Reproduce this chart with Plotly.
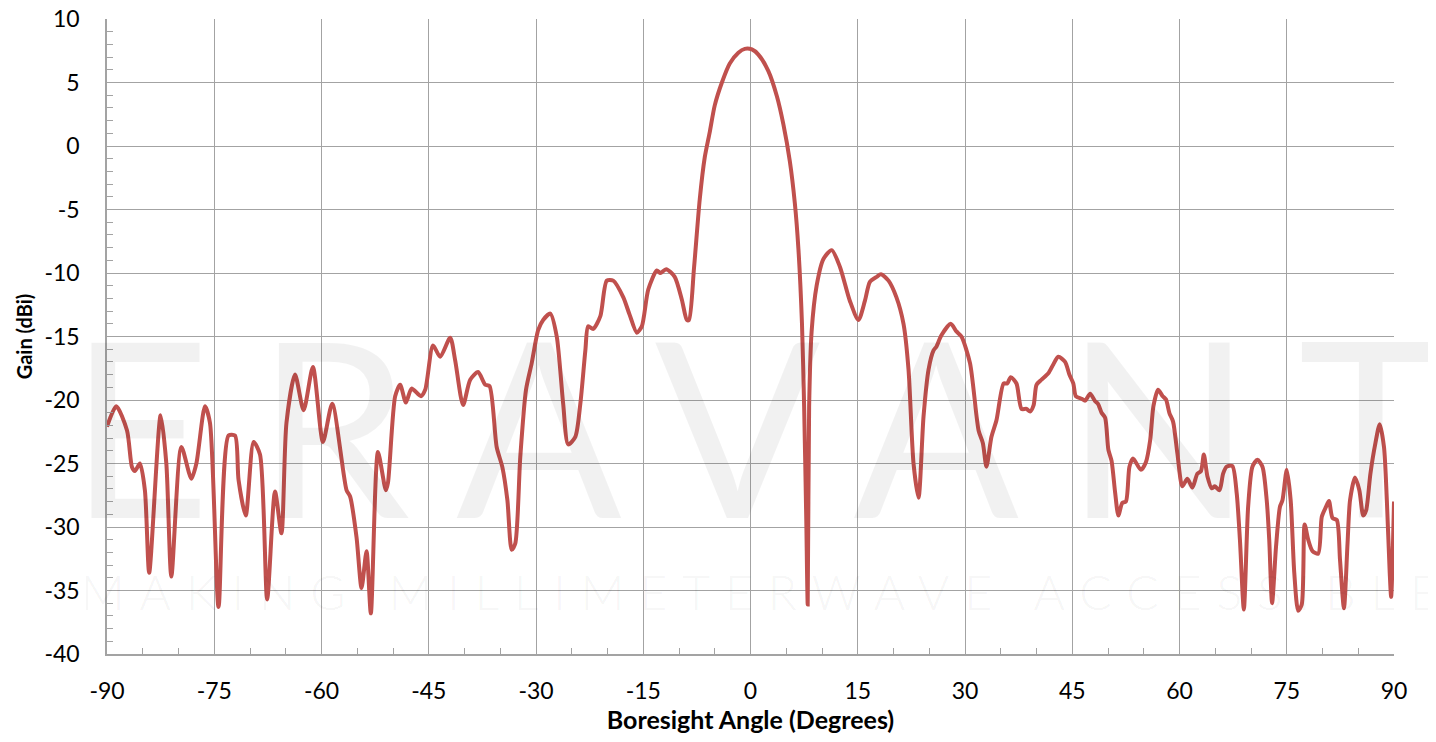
import plotly.graph_objects as go

# Boresight gain pattern
angle_deg = [
    -90.0, -88.7, -87.2, -86.5, -86.1, -85.4, -84.7, -84.1, -82.5, -81.7,
    -81.0, -79.6, -78.2, -77.5, -76.3, -75.6, -74.4, -73.0, -72.1, -71.6,
    -70.6, -69.5, -68.6, -67.6, -66.5, -65.6, -64.9, -63.7, -62.5, -61.2,
    -59.8, -58.5, -56.5, -56.0, -55.1, -54.4, -53.7, -53.1, -52.1, -51.0,
    -50.7, -49.7, -49.0, -48.2, -47.4, -46.1, -45.5, -44.4, -43.4, -42.0,
    -41.3, -40.2, -39.2, -38.1, -37.1, -36.5, -35.5, -34.7, -34.0, -33.4,
    -32.9, -32.2, -31.4, -30.6, -29.7, -29.0, -28.0, -27.1, -26.2, -25.5,
    -24.5, -23.8, -23.1, -22.7, -22.0, -21.0, -20.1, -19.2, -17.8, -16.9,
    -15.9, -15.2, -14.3, -13.1, -12.6, -11.8, -10.6, -9.6, -8.9, -8.6,
    -7.9, -7.1, -6.4, -5.7, -5.0, -4.0, -2.9, -1.7, -0.8, 0.2,
    1.1, 2.5, 3.7, 4.6, 5.5, 6.2, 6.7, 7.2, 7.5, 7.8,
    8.0, 8.2, 8.55, 9.25, 10.2, 11.35, 12.5, 13.9, 15.1, 16.0,
    16.7, 17.65, 18.25, 19.3, 20.4, 21.4, 22.1, 22.8, 23.5, 24.2,
    24.9, 25.6, 26.0, 26.7, 28.0, 28.8, 29.5, 30.7, 31.9, 32.5,
    33.0, 33.7, 34.4, 35.4, 35.9, 36.4, 37.2, 37.9, 38.6, 39.1,
    39.6, 40.0, 40.7, 41.65, 42.35, 43.05, 44.0, 44.6, 45.15, 45.5,
    46.3, 46.8, 47.5, 48.2, 48.6, 49.1, 49.6, 50.05, 50.5, 51.0,
    51.45, 52.0, 52.5, 53.0, 53.5, 54.6, 55.3, 55.9, 56.35, 57.0,
    57.65, 58.1, 58.6, 59.1, 59.7, 60.4, 61.1, 61.8, 62.5, 63.0,
    63.4, 63.9, 64.5, 64.95, 65.6, 66.1, 66.6, 67.4, 68.0, 68.45,
    69.0, 69.6, 70.2, 70.9, 71.6, 72.2, 72.55, 72.95, 73.5, 74.05,
    74.4, 75.0, 75.55, 76.05, 76.6, 77.1, 77.5, 78.0, 78.6, 79.4,
    79.9, 80.5, 80.9, 81.4, 82.0, 82.45, 83.0, 83.5, 83.85, 84.55,
    85.15, 85.7, 86.1, 86.7, 87.4, 88.0, 88.6, 89.0, 89.4, 89.6,
    90.0,
]
gain_dbi = [
    -22.1, -20.5, -22.4, -25.3, -25.6, -25.0, -27.1, -33.6, -21.2, -25.0,
    -33.9, -23.7, -26.2, -25.0, -20.5, -21.8, -36.3, -22.8, -22.8, -26.3,
    -29.1, -23.3, -24.3, -35.7, -27.2, -30.5, -21.8, -18.0, -20.8, -17.4,
    -23.3, -20.3, -27.1, -27.6, -30.8, -34.8, -31.9, -36.8, -24.1, -27.1,
    -26.5, -19.7, -18.8, -20.2, -19.1, -19.7, -19.2, -15.7, -16.6, -15.1,
    -16.9, -20.4, -18.4, -17.8, -18.8, -18.9, -23.7, -25.3, -27.9, -31.8,
    -31.3, -24.5, -19.2, -17.1, -14.5, -13.7, -13.2, -15.0, -20.3, -23.5,
    -22.9, -20.3, -16.1, -14.2, -14.4, -13.4, -10.6, -10.6, -11.9, -13.3,
    -14.7, -14.2, -11.3, -9.8, -10.0, -9.7, -10.3, -12.1, -13.7, -13.7,
    -9.6, -4.2, -0.9, 1.1, 3.2, 5.0, 6.5, 7.35, 7.65, 7.6,
    7.2, 5.9, 3.9, 1.7, -1.2, -4.5, -8.1, -14.0, -20.5, -29.4,
    -36.1, -20.5, -14.6, -11.0, -8.9, -8.2, -9.5, -12.2, -13.7, -12.2,
    -10.7, -10.3, -10.1, -10.6, -11.9, -14.0, -17.6, -25.0, -27.7, -21.3,
    -17.6, -16.1, -15.8, -14.9, -14.0, -14.6, -15.0, -17.1, -22.4, -23.4,
    -25.25, -22.9, -21.6, -18.7, -18.7, -18.2, -18.7, -20.7, -20.7, -20.9,
    -20.4, -18.8, -18.4, -17.9, -17.2, -16.6, -17.0, -18.0, -18.7, -19.7,
    -19.9, -20.05, -19.5, -20.1, -20.3, -21.0, -21.4, -23.9, -24.8, -27.3,
    -29.1, -28.1, -28.0, -25.25, -24.6, -25.5, -24.9, -23.15, -20.5, -19.2,
    -19.7, -19.95, -21.05, -21.7, -24.2, -26.8, -26.2, -26.9, -25.8, -25.6,
    -24.3, -26.0, -26.95, -26.8, -27.1, -25.8, -25.25, -25.2, -27.35, -31.0,
    -36.5, -28.4, -25.25, -24.7, -25.25, -27.9, -31.0, -36.0, -31.55, -28.4,
    -27.9, -25.5, -27.9, -33.6, -36.6, -36.1, -29.8, -31.0, -31.9, -32.1,
    -29.2, -28.4, -27.95, -29.3, -29.45, -32.6, -36.4, -31.3, -27.9, -26.1,
    -27.1, -29.1, -28.7, -25.8, -23.4, -21.9, -23.7, -27.9, -33.6, -35.5,
    -28.0,
]

x_ticks = [-90, -75, -60, -45, -30, -15, 0, 15, 30, 45, 60, 75, 90]
x_labels = ["-90", "-75", "-60", "-45", "-30", "-15", "0", "15", "30", "45", "60", "75", "90"]
y_ticks = [10, 5, 0, -5, -10, -15, -20, -25, -30, -35, -40]
y_labels = ["10", "5", "0", "-5", "-10", "-15", "-20", "-25", "-30", "-35", "-40"]

grid = "#a3a3a3"
font = "Lato, 'Open Sans', sans-serif"

fig = go.Figure()
fig.add_trace(go.Scatter(
    x=angle_deg, y=gain_dbi, mode="lines",
    line=dict(color="#C0504D", width=4, shape="spline", smoothing=0.7),
    hoverinfo="x+y", showlegend=False,
))

# faint company watermark
wm = "rgba(0,0,0,0.055)"
fig.add_annotation(
    text='<span style="letter-spacing:46px">ERAVANT</span>',
    xref="paper", yref="paper", x=0.522, y=0.363, xanchor="center", yanchor="middle",
    showarrow=False, font=dict(family="Lato", size=245, color=wm),
)
fig.add_annotation(
    text='<span style="letter-spacing:15px">MAKING MILLIMETERWAVE ACCESSIBLE</span>',
    xref="paper", yref="paper", x=0.513, y=0.098, xanchor="center", yanchor="middle",
    showarrow=False, font=dict(family="Lato", size=48, color=wm, weight=300),
)

# the page body has an 8px margin, so the figure is made 16px smaller
fig.update_layout(
    width=1420, height=726,
    margin=dict(l=99, r=34, t=11, b=80),
    paper_bgcolor="white", plot_bgcolor="white",
    font=dict(family=font, size=23, color="black"),
)
fig.update_xaxes(
    range=[-90, 90], tickmode="array", tickvals=x_ticks, ticktext=x_labels,
    showgrid=True, gridcolor=grid, gridwidth=1.3,
    showline=True, linecolor=grid, linewidth=1.5,
    ticks="inside", ticklen=6, tickcolor=grid,
    minor=dict(dtick=5, tick0=0, ticks="inside", ticklen=6, tickcolor=grid, showgrid=False),
    zeroline=False, ticklabelstandoff=16, automargin=False, ticklabeloverflow="allow",
    title=dict(text="<b>Boresight Angle (Degrees)</b>", font=dict(size=25), standoff=24),
)
fig.update_yaxes(
    range=[-40, 10], tickmode="array", tickvals=y_ticks, ticktext=y_labels,
    showgrid=True, gridcolor=grid, gridwidth=1.3,
    showline=True, linecolor=grid, linewidth=1.5,
    ticks="inside", ticklen=6, tickcolor=grid,
    minor=dict(dtick=1, tick0=0, ticks="inside", ticklen=6, tickcolor=grid, showgrid=False),
    zeroline=False, ticklabelstandoff=21, automargin=False, ticklabeloverflow="allow",
    title=dict(text="<b>Gain (dBi)</b>", font=dict(size=20), standoff=6),
)

fig.write_html("out.html")
